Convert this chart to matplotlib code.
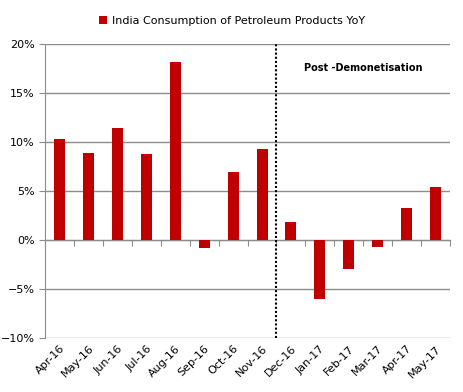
import matplotlib.pyplot as plt
import numpy as np
from matplotlib.ticker import PercentFormatter

months = ["Apr-16", "May-16", "Jun-16", "Jul-16", "Aug-16", "Sep-16", "Oct-16",
          "Nov-16", "Dec-16", "Jan-17", "Feb-17", "Mar-17", "Apr-17", "May-17"]
yoy = [10.3, 8.9, 11.4, 8.8, 18.2, -0.8, 6.9, 9.3, 1.8, -6.0, -3.0, -0.7, 3.3, 5.4]
label = "India Consumption of Petroleum Products YoY"
demon_after = "Nov-16"

red = "#C00000"
grey = "#8C8C8C"

fig = plt.figure(figsize=(4.64, 3.92), dpi=100)
ax = fig.add_axes([0.097, 0.138, 0.873, 0.750])

x = np.arange(len(months))
ax.bar(x, yoy, 0.38, color=red, label=label, zorder=3)

ax.set_xlim(-0.5, len(months) - 0.5)
ax.set_ylim(-10, 20)
ax.set_yticks(range(-10, 21, 5))
ax.yaxis.set_major_formatter(PercentFormatter(decimals=0))
ax.grid(axis="y", color=grey, linewidth=1, zorder=0)
for s in ["top", "right", "bottom"]:
    ax.spines[s].set_visible(False)
ax.spines["left"].set_color(grey)
ax.tick_params(axis="y", colors=grey, length=4, labelsize=8, labelcolor="black")

ax.set_xticks(x)
ax.set_xticklabels(months, rotation=45, ha="right", rotation_mode="anchor", fontsize=8)
ax.tick_params(axis="x", length=0, pad=4)

# zero axis with boundary ticks
zero = ax.secondary_xaxis(1 / 3)
zero.set_xticks(np.arange(len(months) + 1) - 0.5)
zero.set_xticklabels([])
zero.tick_params(colors=grey, length=4)
zero.spines["bottom"].set_color(grey)

# demonetisation divider
xd = months.index(demon_after) + 0.5
ax.axvline(xd, color="black", linestyle=(0, (1, 1)), linewidth=1.5, zorder=4)
ax.text(10.5, 17.5, "Post -Demonetisation", ha="center", va="center",
        fontsize=7, fontweight="bold")

fig.legend(loc="upper center", bbox_to_anchor=(0.5, 0.985), frameon=False,
           fontsize=8, handlelength=0.7, handleheight=0.7, handletextpad=0.4)

fig.savefig("out.png", dpi=100)
